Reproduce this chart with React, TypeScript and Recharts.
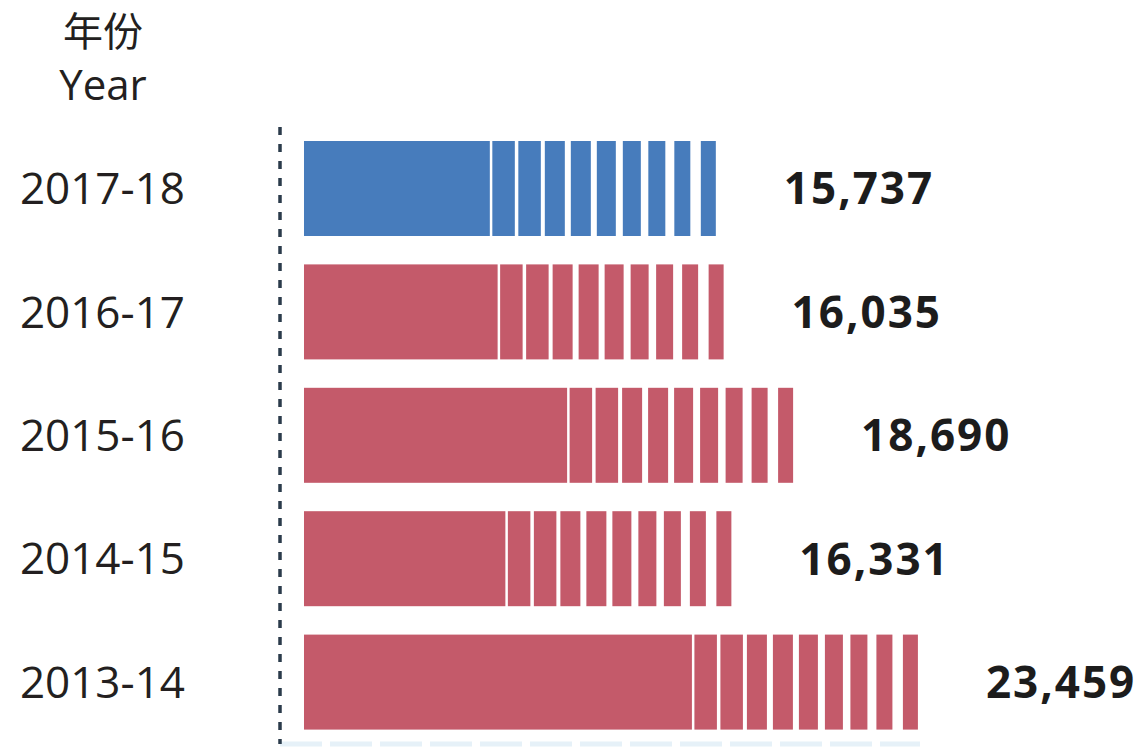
import { BarChart, Bar, XAxis, YAxis, LabelList } from "recharts";

// data
const years = ["2017-18", "2016-17", "2015-16", "2014-15", "2013-14"];
const counts = [15737, 16035, 18690, 16331, 23459];
const barColors = ["#477cbc", "#c45a6a", "#c45a6a", "#c45a6a", "#c45a6a"];

const data = years.map((year, i) => ({ year, count: counts[i], color: barColors[i] }));

// decorative "fade" at the end of every bar (px)
const TAIL_GAPS = [2.5, 3.5, 4, 6, 6, 7, 7.5, 9, 10.5];
const TAIL_WIDTHS = [22.5, 22.5, 20, 20, 19, 18, 17, 16, 15];
const TAIL_LEN =
  TAIL_GAPS.reduce((s, v) => s + v, 0) + TAIL_WIDTHS.reduce((s, v) => s + v, 0);

function StripedBar(props: any) {
  const { x, y, width, height } = props;
  const fill = props.payload?.color ?? props.fill;
  const solid = Math.max(width - TAIL_LEN, 0);
  const parts = [<rect key="solid" x={x} y={y} width={solid} height={height} fill={fill} />];
  let cx = x + solid;
  TAIL_WIDTHS.forEach((w, i) => {
    cx += TAIL_GAPS[i];
    parts.push(<rect key={i} x={cx} y={y} width={w} height={height} fill={fill} />);
    cx += w;
  });
  return <g>{parts}</g>;
}

function YearTick({ x, y, payload }: any) {
  return (
    <text
      x={x}
      y={y}
      dy="0.35em"
      textAnchor="end"
      fontSize={44}
      fontFamily="'Open Sans', sans-serif"
      fill="#231f20"
    >
      {payload.value}
    </text>
  );
}

function ValueLabel({ x, y, width, height, value }: any) {
  return (
    <text
      x={x + width + 68}
      y={y + height / 2}
      dy="0.36em"
      fontSize={44}
      fontWeight={700}
      letterSpacing={2}
      fontFamily="'Open Sans', sans-serif"
      fill="#1c1c1c"
    >
      {Number(value).toLocaleString("en-US")}
    </text>
  );
}

export default function App() {
  return (
    <div style={{ position: "absolute", left: 0, top: 0, width: 1144, height: 752, background: "#fff" }}>
      <svg
        width={1144}
        height={752}
        style={{ position: "absolute", left: 0, top: 0, pointerEvents: "none" }}
      >
        <text
          x={103}
          y={46}
          textAnchor="middle"
          fontSize={40}
          fontFamily="'Noto Sans CJK SC', sans-serif"
          fill="#231f20"
        >
          年份
        </text>
        <text
          x={103}
          y={100}
          textAnchor="middle"
          fontSize={42}
          fontFamily="'Open Sans', sans-serif"
          fill="#231f20"
        >
          Year
        </text>
      </svg>
      <BarChart
        width={1144}
        height={752}
        data={data}
        layout="vertical"
        margin={{ top: 127, right: 224, bottom: 0, left: 0 }}
      >
        <XAxis
          type="number"
          domain={[-917, 23539]}
          height={8}
          tick={false}
          tickLine={false}
          axisLine={{ stroke: "#e6f1f8", strokeWidth: 5, strokeDasharray: "42 8" }}
        />
        <YAxis
          type="category"
          dataKey="year"
          width={280}
          tickSize={0}
          tickMargin={95}
          tickLine={false}
          tick={<YearTick />}
          axisLine={{ stroke: "#2b3b4b", strokeWidth: 3.5, strokeDasharray: "8 9" }}
        />
        <Bar dataKey="count" barSize={95} shape={<StripedBar />} isAnimationActive={false}>
          <LabelList dataKey="count" content={<ValueLabel />} />
        </Bar>
      </BarChart>
    </div>
  );
}
